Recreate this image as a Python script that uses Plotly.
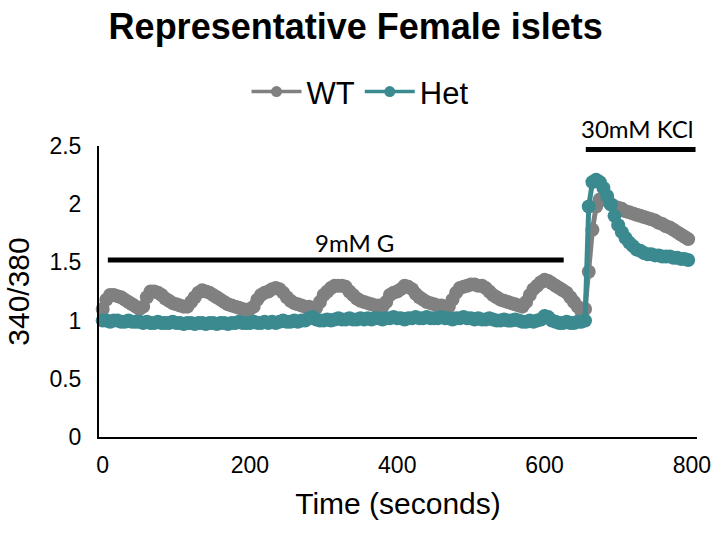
import plotly.graph_objects as go

time_s = list(range(0, 800, 5))

wt = [
    1.10, 1.18, 1.22, 1.22, 1.21, 1.20, 1.18, 1.16, 1.14, 1.12,
    1.10, 1.12, 1.20, 1.25, 1.25, 1.24, 1.22, 1.19, 1.17, 1.15,
    1.14, 1.13, 1.12, 1.12, 1.16, 1.20, 1.24, 1.26, 1.25, 1.24,
    1.22, 1.20, 1.18, 1.16, 1.14, 1.13, 1.12, 1.11, 1.10, 1.09,
    1.10, 1.12, 1.18, 1.22, 1.24, 1.25, 1.27, 1.28, 1.27, 1.24,
    1.20, 1.17, 1.15, 1.14, 1.13, 1.12, 1.12, 1.11, 1.11, 1.16,
    1.22, 1.25, 1.28, 1.30, 1.30, 1.30, 1.29, 1.25, 1.22, 1.19,
    1.17, 1.16, 1.15, 1.14, 1.13, 1.13, 1.12, 1.16, 1.22, 1.24,
    1.25, 1.27, 1.30, 1.29, 1.27, 1.23, 1.20, 1.18, 1.16, 1.15,
    1.14, 1.13, 1.13, 1.12, 1.12, 1.18, 1.24, 1.28, 1.29, 1.30,
    1.31, 1.31, 1.30, 1.30, 1.28, 1.25, 1.22, 1.20, 1.18, 1.17,
    1.16, 1.15, 1.14, 1.13, 1.12, 1.16, 1.22, 1.27, 1.30, 1.33,
    1.35, 1.34, 1.32, 1.30, 1.28, 1.26, 1.24, 1.20, 1.16, 1.12,
    1.08, 1.10, 1.42, 1.78, 1.98, 2.04, 2.05, 2.03, 2.00, 1.98,
    1.97, 1.96, 1.94, 1.93, 1.92, 1.91, 1.90, 1.89, 1.88, 1.87,
    1.86, 1.84, 1.83, 1.81, 1.80, 1.78, 1.76, 1.74, 1.72, 1.70,
]

het = [
    1.00, 1.00, 0.99, 1.00, 1.00, 0.99, 0.99, 1.00, 0.99, 0.99,
    0.99, 0.98, 0.99, 0.98, 0.98, 0.99, 0.98, 0.98, 0.98, 0.99,
    0.98, 0.98, 0.97, 0.98, 0.98, 0.97, 0.98, 0.98, 0.97, 0.98,
    0.98, 0.97, 0.98, 0.98, 0.97, 0.98, 0.98, 0.99, 0.98, 0.98,
    0.98, 0.99, 0.98, 0.98, 0.99, 0.98, 0.99, 0.98, 0.99, 1.00,
    0.99, 0.99, 1.00, 0.99, 1.00, 1.00, 1.02, 1.03, 1.01, 1.00,
    1.00, 1.01, 1.00, 1.01, 1.02, 1.01, 1.01, 1.02, 1.01, 1.01,
    1.02, 1.01, 1.02, 1.01, 1.02, 1.02, 1.01, 1.02, 1.02, 1.03,
    1.02, 1.02, 1.01, 1.02, 1.02, 1.03, 1.02, 1.02, 1.03, 1.02,
    1.02, 1.02, 1.03, 1.02, 1.02, 1.01, 1.02, 1.02, 1.03, 1.02,
    1.02, 1.01, 1.02, 1.01, 1.01, 1.02, 1.01, 1.00, 1.00, 1.01,
    1.00, 1.00, 1.01, 1.00, 0.99, 0.99, 1.00, 0.99, 1.00, 1.01,
    1.04, 1.03, 1.00, 0.99, 0.98, 0.98, 0.99, 0.98, 0.98, 0.99,
    0.99, 1.00, 1.98, 2.19, 2.21, 2.19, 2.14, 2.07, 2.00, 1.90,
    1.82, 1.76, 1.71, 1.67, 1.64, 1.61, 1.60, 1.58, 1.57, 1.57,
    1.56, 1.56, 1.55, 1.55, 1.55, 1.54, 1.54, 1.53, 1.53, 1.52,
]

series_names = ["WT", "Het"]
series_colors = ["#808080", "#3B8A90"]

glucose_label = "9mM G"
glucose_span = [7, 626]
glucose_level = 1.52
kcl_label = "30mM KCl"
kcl_span = [656, 805]
kcl_level = 2.47

x_ticks = [0, 200, 400, 600, 800]
y_ticks = [0, 0.5, 1, 1.5, 2, 2.5]
y_tick_text = ["0", "0.5", "1", "1.5", "2", "2.5"]

fig = go.Figure()
for name, vals, col in zip(series_names, [wt, het], series_colors):
    fig.add_trace(go.Scatter(
        x=time_s, y=vals, mode="lines+markers", name=name,
        line=dict(color=col, width=5),
        marker=dict(color=col, size=14),
        showlegend=False, cliponaxis=False,
    ))
    fig.add_trace(go.Scatter(
        x=[None], y=[None], mode="lines+markers", name=name,
        line=dict(color=col, width=3.5),
        marker=dict(color=col, size=11),
        showlegend=True,
    ))

fig.add_shape(type="line", xref="x", yref="y",
              x0=glucose_span[0], x1=glucose_span[1], y0=glucose_level, y1=glucose_level,
              line=dict(color="black", width=5))
fig.add_shape(type="line", xref="x", yref="y",
              x0=kcl_span[0], x1=kcl_span[1], y0=kcl_level, y1=kcl_level,
              line=dict(color="black", width=5))

fig.add_annotation(x=342, y=1.67, xref="x", yref="y", text=glucose_label,
                   xanchor="center", yanchor="middle",
                   showarrow=False, font=dict(family="Lato, Arial", size=24, color="black"))
fig.add_annotation(x=(637 - 99) / 598, y=1 + (146 - 128) / 291, xref="paper", yref="paper",
                   text=kcl_label, showarrow=False, xanchor="center", yanchor="middle",
                   font=dict(family="Lato, Arial", size=24, color="black"))

fig.update_layout(
    width=726, height=539,
    margin=dict(l=99, r=29, t=146, b=102),
    paper_bgcolor="white", plot_bgcolor="white",
    font=dict(family="Liberation Sans, Arial", color="black"),
    title=dict(text="<b>Representative Female islets</b>", x=0.49, xanchor="center",
               y=1 - 26 / 539, yanchor="middle",
               font=dict(family="Liberation Sans, Arial", size=36, color="black")),
    legend=dict(orientation="h", x=(360 - 99) / 598, xanchor="center", y=1.186, yanchor="middle",
                font=dict(size=31, color="black"), bgcolor="rgba(0,0,0,0)",
                itemwidth=50, tracegroupgap=0),
    xaxis=dict(range=[-5, 807], tickvals=x_ticks, showgrid=False, zeroline=False,
               showline=True, linecolor="black", linewidth=2,
               ticks="outside", ticklen=6, tickcolor="rgba(0,0,0,0)",
               tickfont=dict(size=23, color="black"),
               title=dict(text="Time (seconds)", font=dict(size=30, color="black"), standoff=16)),
    yaxis=dict(range=[0, 2.5], tickvals=y_ticks, ticktext=y_tick_text, showgrid=False,
               zeroline=False, showline=True, linecolor="black", linewidth=2,
               ticks="outside", ticklen=11, tickcolor="rgba(0,0,0,0)",
               tickfont=dict(size=23, color="black"),
               title=dict(text="340/380", font=dict(size=30, color="black"), standoff=11)),
)

fig.write_html("out.html")
